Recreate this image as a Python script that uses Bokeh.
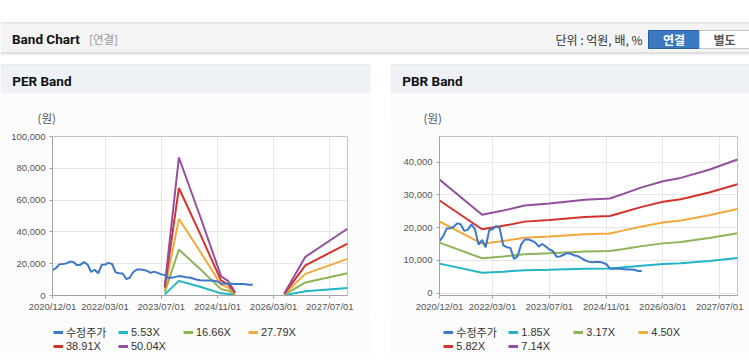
import pandas as pd
from bokeh.plotting import figure
from bokeh.models import (Range1d, FixedTicker, DatetimeTickFormatter, NumeralTickFormatter,
                          Legend, LegendItem, Spacer)
from bokeh.layouts import column, row
from bokeh.embed import file_html
from bokeh.resources import INLINE
from bokeh.core.properties import value

# ---------------- data ----------------
price_name = "수정주가"
price_start = "2020-12-01"
price = [15900, 17300, 19700, 19800, 20200, 21300, 21000, 19000, 19400, 21000,
         19500, 14800, 16200, 14000, 19300, 19500, 20500, 19800, 14600, 14000,
         13800, 10400, 11200, 14800, 16300, 16400, 16000, 15500, 14200, 15000,
         14200, 13300, 12800, 11100, 11200, 11700, 12200, 12000, 11500, 11300,
         10700, 10000, 9600, 9400, 9500, 9500, 9300, 8800, 7500, 7400,
         7400, 7400, 7300, 7200, 7200, 7100, 6700, 6700]

per_names = ["5.53X", "16.66X", "27.79X", "38.91X", "50.04X"]
per_dates_a = ["2023-08-01", "2023-12-01", "2024-06-01", "2024-12-01", "2025-02-01", "2025-04-01"]
per_dates_b = ["2026-06-01", "2026-12-01", "2027-12-01"]
per_a = [
    [700, 9200, 5500, 1350, 1000, 250],
    [2100, 28900, 16700, 4000, 3000, 700],
    [3500, 48200, 27800, 6700, 5000, 1100],
    [4900, 67600, 38900, 9300, 7000, 1600],
    [6300, 86800, 50000, 12000, 9000, 2000],
]
per_b = [
    [150, 2700, 4700],
    [420, 8200, 14000],
    [700, 13600, 23000],
    [980, 19000, 32600],
    [1250, 24300, 42000],
]

pbr_names = ["1.85X", "3.17X", "4.50X", "5.82X", "7.14X"]
pbr_dates = ["2020-12-01", "2021-12-01", "2022-06-01", "2022-12-01", "2023-07-01", "2024-05-01",
             "2024-12-01", "2025-04-01", "2025-09-01", "2026-03-01", "2026-08-01", "2027-04-01",
             "2027-12-01"]
pbr_vals = [
    [8990, 6200, 6530, 6940, 7100, 7390, 7490, 7870, 8370, 8860, 9120, 9800, 10700],
    [15410, 10620, 11190, 11890, 12160, 12660, 12840, 13490, 14340, 15180, 15630, 16800, 18300],
    [21870, 15080, 15890, 16880, 17260, 17980, 18230, 19150, 20360, 21560, 22190, 23760, 25700],
    [28290, 19500, 20540, 21830, 22320, 23250, 23570, 24760, 26340, 27880, 28690, 30730, 33260],
    [34700, 23920, 25200, 26780, 27380, 28520, 28920, 30380, 32310, 34200, 35200, 37700, 40810],
]

x_tick_dates = ["2020-12-01", "2022-03-01", "2023-07-01", "2024-11-01", "2026-03-01", "2027-07-01"]
x_start, x_end = "2020-12-01", "2027-12-01"
per_y_ticks = [0, 20000, 40000, 60000, 80000, 100000]
pbr_y_ticks = [0, 10000, 20000, 30000, 40000]

price_color = "#3b78c8"
band_colors = ["#22b4c7", "#8db456", "#f2a93c", "#d3332c", "#934f9e"]

SANS = "'Liberation Sans', 'Noto Sans CJK KR'"
KR = "'Noto Sans CJK KR'"
BOLD = "Roboto, 'Noto Sans CJK KR'"
PANEL = "#fcfcfc"


def canvas(w, h, bg="#ffffff"):
    f = figure(width=w, height=h, x_range=Range1d(0, w), y_range=Range1d(h, 0),
               x_axis_type=None, y_axis_type=None, toolbar_location=None,
               output_backend="svg", min_border=0, title=None,
               background_fill_color=bg, border_fill_color=bg, outline_line_color=None)
    f.grid.visible = False
    return f


def box(f, l, r, t, b, color, line=None):
    f.quad(left=[l], right=[r], top=[t], bottom=[b], fill_color=color,
           line_color=line if line else None)


def txt(f, x, y, s, font, size, color, bold=False, align="left"):
    f.text(x=[x], y=[y], text=[s], text_font=value(font), text_font_size=size,
           text_font_style="bold" if bold else "normal", text_color=color,
           text_align=align, text_baseline="middle")


W = 749
PANELS = [(0, 370), (390, W)]

# ---------------- top part: page header, panel headers, unit labels ----------------
top = canvas(W, 125)
box(top, 0, W, 22, 23, "#c6c6c6")
box(top, 0, W, 23, 52, "#f4f4f4")
box(top, 0, W, 52, 53, "#c4c4c4")
box(top, 0, W, 53, 54, "#e2e2e2")
box(top, 0, W, 54, 55, "#f1f1f1")
txt(top, 11.5, 38.5, "Band Chart", BOLD, "13.5px", "#111111", bold=True)
txt(top, 88.5, 38.5, "[연결]", KR, "11.5px", "#999999")
txt(top, 642, 39, "단위 : 억원, 배, %", KR, "12px", "#333333", align="right")
box(top, 648, 699, 30, 48, "#3a78c0", "#2d62a2")
box(top, 699, 749, 30, 48, "#ffffff", "#c5c5c5")
txt(top, 673.5, 39, "연결", KR, "12px", "#ffffff", bold=True, align="center")
txt(top, 724, 39, "별도", KR, "12px", "#555555", bold=True, align="center")

for (l, r), title, unit_x in zip(PANELS, ["PER Band", "PBR Band"], [37, 423]):
    box(top, l, r, 64, 65, "#d8d8d8")
    box(top, l, r, 65, 93, "#eef1f6")
    box(top, l, r, 93, 125, PANEL)
    txt(top, l + 11.7, 80, title, BOLD, "13.5px", "#111111", bold=True)
    txt(top, unit_x, 117.5, "(원)", KR, "11.5px", "#555555")

# ---------------- legend strip and bottom edge ----------------
legend_strip = canvas(W, 40)
for l, r in PANELS:
    box(legend_strip, l, r, 0, 40, PANEL)

bottom = canvas(W, 6)
for l, r in PANELS:
    box(bottom, l, r, 0, 1, "#d6d6d6")


def add_legend(names, x):
    items = []
    for name, color in zip([price_name] + names, [price_color] + band_colors):
        # swatch renderer kept outside the visible strip; only its style is shown in the legend
        swatch = legend_strip.line(x=[-50, -40], y=[-50, -50], line_color=color, line_width=3)
        items.append(LegendItem(label=name, renderers=[swatch]))
    lg = Legend(items=items, location=(x, 6), orientation="horizontal", ncols=4,
                padding=0, margin=0, spacing=0,
                border_line_color=None, background_fill_alpha=0,
                glyph_width=10, glyph_height=12, label_height=12, label_width=52,
                label_standoff=3, label_text_font=SANS, label_text_font_size="11px",
                label_text_color="#333333")
    legend_strip.add_layout(lg, "center")


def chart(w, ml, mr, mt, mb, y0, y1, yticks, band_segments):
    p = figure(width=w, height=193, x_axis_type="datetime",
               x_range=Range1d(pd.Timestamp(x_start), pd.Timestamp(x_end)),
               y_range=Range1d(y0, y1), toolbar_location=None, output_backend="svg",
               title=None, min_border_left=ml, min_border_right=mr,
               min_border_top=mt, min_border_bottom=mb,
               background_fill_color="#ffffff", border_fill_color=PANEL,
               outline_line_color="#c4c4c4")
    p.xaxis.ticker = FixedTicker(ticks=[pd.Timestamp(d).value // 10**6 for d in x_tick_dates])
    fmt = "%Y/%m/%d"
    p.xaxis.formatter = DatetimeTickFormatter(days=fmt, months=fmt, years=fmt, hours=fmt,
                                              minutes=fmt, seconds=fmt, milliseconds=fmt,
                                              microseconds=fmt, hourmin=fmt, minsec=fmt)
    p.yaxis.ticker = FixedTicker(ticks=yticks)
    p.yaxis.formatter = NumeralTickFormatter(format="0,0")
    for ax in (p.xaxis[0], p.yaxis[0]):
        ax.axis_line_color = "#a3a3a3"
        ax.major_tick_line_color = "#a3a3a3"
        ax.major_tick_out = 3
        ax.major_tick_in = 0
        ax.minor_tick_line_color = None
        ax.major_label_text_font = SANS
        ax.major_label_text_font_size = "9.5px"
        ax.major_label_text_color = "#555555"
    p.xaxis.major_label_standoff = 2
    p.yaxis.major_label_standoff = 4
    p.grid.grid_line_color = "#e7e7e7"

    for color, segs in zip(band_colors, band_segments):
        for dates, vals in segs:
            p.line(x=pd.to_datetime(dates), y=vals, line_color=color, line_width=2)
    p.line(x=pd.date_range(price_start, periods=len(price), freq="MS"), y=price,
           line_color=price_color, line_width=2)
    return p


per_segments = [[(per_dates_a, a), (per_dates_b, b)] for a, b in zip(per_a, per_b)]
pbr_segments = [[(pbr_dates, v)] for v in pbr_vals]

per = chart(370, 52, 23, 11, 22, 0, 100000, per_y_ticks, per_segments)
pbr = chart(359, 49, 12, 3, 23, -760, 47860, pbr_y_ticks, pbr_segments)
add_legend(per_names, 53)
add_legend(pbr_names, 443.3)

layout = column(top, row(per, Spacer(width=20, height=193), pbr, spacing=0),
                legend_strip, bottom, spacing=0)

open("out.html", "w").write(file_html(layout, INLINE))
